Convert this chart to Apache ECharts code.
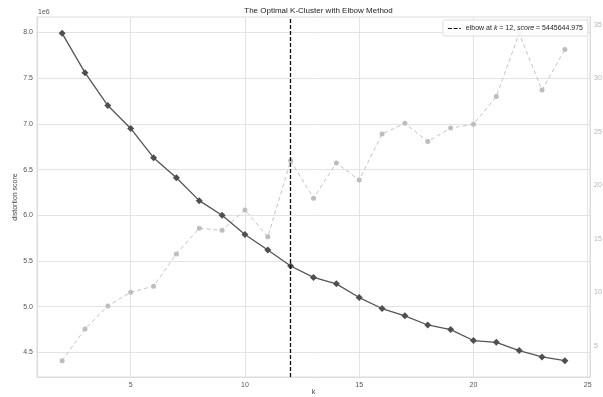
<!DOCTYPE html>
<html>
<head>
<meta charset="utf-8">
<script src="https://cdn.jsdelivr.net/npm/echarts@6/dist/echarts.min.js"></script>
<style>
html,body{margin:0;padding:0;background:#fff;}
#chart{width:603px;height:397px;}
</style>
</head>
<body>
<div id="chart"></div>
<script>
// ---- data ----
const kValues = [2,3,4,5,6,7,8,9,10,11,12,13,14,15,16,17,18,19,20,21,22,23,24];
const distortion = [7990000,7560000,7200000,6950000,6630000,6410000,6160000,6000000,5790000,5620000,5445644.975,5320000,5250000,5100000,4980000,4900000,4800000,4750000,4630000,4610000,4520000,4450000,4410000];
const fitTime = [3.63,6.59,8.74,10.02,10.58,13.6,16.0,15.8,17.7,15.2,22.3,18.8,22.1,20.5,24.8,25.8,24.1,25.35,25.7,28.3,34.2,28.9,32.7];
const elbowK = 12;
const elbowScore = 5445644.975;
const xTicks = [5,10,15,20,25];
const yTicks = [4500000,5000000,5500000,6000000,6500000,7000000,7500000,8000000];
const y2Ticks = [5,10,15,20,25,30,35];
const titleText = 'The Optimal K-Cluster with Elbow Method';

// ---- chart ----
const FONT = 'Liberation Sans';
function pad(arr){ const lo=Math.min(...arr), hi=Math.max(...arr), m=(hi-lo)*0.05; return [lo-m, hi+m]; }
const xr = pad(kValues), yr = pad(distortion), y2r = pad(fitTime);

const chart = echarts.init(document.getElementById('chart'), null, {renderer:'canvas'});
chart.setOption({
  backgroundColor:'#fff',
  animation:false,
  textStyle:{fontFamily:FONT},
  title:{
    text:titleText, left:313.5, top:2, textAlign:'center',
    textStyle:{fontFamily:FONT, fontSize:8, fontWeight:'normal', color:'#222'}
  },
  graphic:[{type:'text', left:38, top:9, style:{text:'1e6', fontFamily:FONT, fontSize:7, fill:'#555'}}],
  legend:{
    right:15, top:20, orient:'horizontal',
    data:[{name:'elbow', icon:'path://M0,0h5v1.3h-5z M7,0h5v1.3h-5z M14,0h2v1.3h-2z'}],
    backgroundColor:'rgba(255,255,255,0.85)', borderColor:'#dddddd', borderWidth:1, borderRadius:2,
    padding:[5,5,4,5], itemWidth:13, itemHeight:1.3, itemGap:4,
    itemStyle:{color:'#111'},
    formatter:function(){ return '{n|elbow at }{i|k}{n| = ' + elbowK + ', }{i|score}{n| = ' + elbowScore.toFixed(3) + '}'; },
    textStyle:{fontFamily:FONT, fontSize:7, color:'#222',
      rich:{n:{fontFamily:FONT,fontSize:7,color:'#222'}, i:{fontFamily:FONT,fontSize:7,fontStyle:'italic',color:'#222'}}}
  },
  grid:{left:37, right:13, top:17, bottom:20, containLabel:false, outerBoundsMode:'none',
        show:true, borderColor:'#dcdcdc', borderWidth:1, backgroundColor:'transparent'},
  xAxis:{
    type:'value', min:xr[0], max:xr[1],
    name:'k', nameLocation:'middle', nameGap:12, nameMoveOverlap:false,
    nameTextStyle:{fontFamily:FONT, fontSize:7, color:'#444'},
    axisLine:{show:true, lineStyle:{color:'#dcdcdc'}},
    axisTick:{show:false, customValues:xTicks},
    axisLabel:{customValues:xTicks, fontFamily:FONT, fontSize:7, color:'#555', margin:5, showMinLabel:true, showMaxLabel:true},
    splitLine:{show:true, lineStyle:{color:'#e3e3e3', width:1}}
  },
  yAxis:[{
    type:'value', min:yr[0], max:yr[1], position:'left',
    name:'distortion score', nameLocation:'middle', nameGap:18, nameRotate:90, nameMoveOverlap:false,
    nameTextStyle:{fontFamily:FONT, fontSize:7, color:'#444'},
    axisLine:{show:true, lineStyle:{color:'#dcdcdc'}},
    axisTick:{show:false, customValues:yTicks},
    axisLabel:{customValues:yTicks, fontFamily:FONT, fontSize:7, color:'#555', margin:4,
      formatter:function(v){ return (v/1e6).toFixed(1); }},
    splitLine:{show:true, lineStyle:{color:'#e3e3e3', width:1}}
  },{
    type:'value', min:y2r[0], max:y2r[1], position:'right',
    axisLine:{show:true, lineStyle:{color:'#dcdcdc'}},
    axisTick:{show:false, customValues:y2Ticks},
    axisLabel:{customValues:y2Ticks, fontFamily:FONT, fontSize:7, color:'#b5b5b5', margin:4},
    splitLine:{show:false}
  }],
  series:[{
    name:'fit time', type:'line', yAxisIndex:1, z:2,
    data:kValues.map((k,i)=>[k, fitTime[i]]),
    symbol:'circle', symbolSize:5, showSymbol:true,
    itemStyle:{color:'#bdbdbd'},
    lineStyle:{color:'#c4c4c4', width:1, type:[4,3]}
  },{
    name:'distortion', type:'line', yAxisIndex:0, z:3,
    data:kValues.map((k,i)=>[k, distortion[i]]),
    symbol:'diamond', symbolSize:[7,7], showSymbol:true,
    itemStyle:{color:'#4f4f4f'},
    lineStyle:{color:'#555555', width:1.3}
  },{
    name:'elbow', type:'line', yAxisIndex:0, z:4, data:[],
    symbol:'none', itemStyle:{color:'#111'},
    lineStyle:{color:'#111', width:1.3, type:[4,2]},
    markLine:{silent:true, symbol:'none', label:{show:false},
      lineStyle:{color:'#111', width:1.3, type:[4,2]},
      data:[{xAxis:elbowK}]}
  }]
});
</script>
</body>
</html>
